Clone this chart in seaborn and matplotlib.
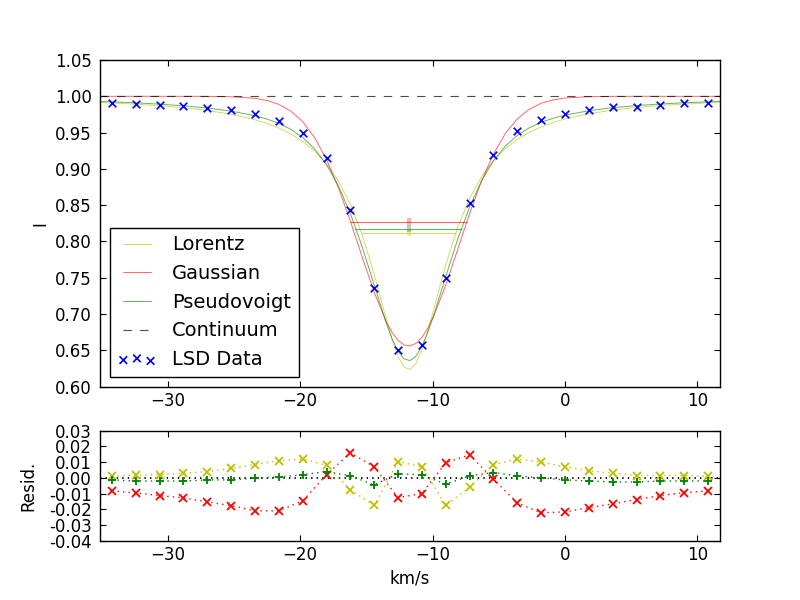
import matplotlib
matplotlib.use("Agg")
import matplotlib.pyplot as plt
from matplotlib.ticker import MultipleLocator
import seaborn as sns

sns.set_style("ticks", {"xtick.direction": "in", "ytick.direction": "in"})
plt.rcParams["font.family"] = ["DejaVu Sans"]
plt.rcParams.update({
    "font.size": 12, "axes.labelsize": 12,
    "xtick.labelsize": 12, "ytick.labelsize": 12,
    "axes.edgecolor": "k", "axes.linewidth": 1.0,
    "text.color": "k", "axes.labelcolor": "k",
    "xtick.color": "k", "ytick.color": "k",
    "xtick.top": True, "ytick.right": True,
    "xtick.major.size": 4, "ytick.major.size": 4,
    "xtick.major.pad": 4, "ytick.major.pad": 6,
    "lines.scale_dashes": False,
    "lines.dashed_pattern": [6, 6],
    "lines.dotted_pattern": [1, 3],
})

# LSD profile (km/s, normalised intensity)
vel = [-34.2, -32.4, -30.6, -28.8, -27.0, -25.2, -23.4, -21.6, -19.8, -18.0,
       -16.2, -14.4, -12.6, -10.8, -9.0, -7.2, -5.4, -3.6, -1.8, 0.0,
       1.8, 3.6, 5.4, 7.2, 9.0, 10.8]
lsd = [0.991, 0.989, 0.988, 0.987, 0.984, 0.981, 0.976, 0.966, 0.950, 0.915,
       0.844, 0.736, 0.650, 0.658, 0.750, 0.853, 0.919, 0.952, 0.967, 0.976,
       0.981, 0.985, 0.985, 0.988, 0.991, 0.991]

# fitted model curves
model_vel = [-35.1, -34.2, -32.4, -30.6, -28.8, -27.0, -25.2, -23.4, -22.5, -21.6,
             -20.7, -19.8, -18.9, -18.0, -17.1, -16.2, -15.3, -14.4, -13.5, -13.05,
             -12.6, -12.15, -11.7, -11.25, -10.8, -10.35, -9.9, -9.0, -8.1, -7.2,
             -6.3, -5.4, -4.5, -3.6, -2.7, -1.8, -0.9, 0.0, 1.8, 3.6,
             5.4, 7.2, 9.0, 10.8, 11.7]
lorentz = [0.9915, 0.9908, 0.9891, 0.9870, 0.9843, 0.9805, 0.9753, 0.9678, 0.9627, 0.9563,
           0.9483, 0.9380, 0.9247, 0.9070, 0.8834, 0.8515, 0.8090, 0.7549, 0.6937, 0.6650,
           0.6416, 0.6270, 0.6237, 0.6322, 0.6511, 0.6772, 0.7073, 0.7678, 0.8195, 0.8594,
           0.8893, 0.9114, 0.9280, 0.9406, 0.9503, 0.9579, 0.9639, 0.9688, 0.9760, 0.9810,
           0.9846, 0.9873, 0.9893, 0.9909, 0.9916]
gaussian = [1.0000, 1.0000, 1.0000, 1.0000, 1.0000, 0.9999, 0.9994, 0.9972, 0.9943, 0.9889,
            0.9797, 0.9651, 0.9432, 0.9129, 0.8740, 0.8278, 0.7780, 0.7298, 0.6898, 0.6747,
            0.6638, 0.6575, 0.6561, 0.6597, 0.6681, 0.6809, 0.6976, 0.7401, 0.7891, 0.8385,
            0.8833, 0.9204, 0.9488, 0.9689, 0.9822, 0.9904, 0.9951, 0.9976, 0.9995, 0.9999,
            1.0000, 1.0000, 1.0000, 1.0000, 1.0000]
pseudovoigt = [0.9929, 0.9923, 0.9910, 0.9892, 0.9869, 0.9839, 0.9796, 0.9732, 0.9687, 0.9627,
               0.9546, 0.9433, 0.9275, 0.9057, 0.8764, 0.8385, 0.7922, 0.7399, 0.6880, 0.6658,
               0.6487, 0.6383, 0.6360, 0.6420, 0.6556, 0.6752, 0.6989, 0.7518, 0.8032, 0.8477,
               0.8836, 0.9111, 0.9315, 0.9461, 0.9566, 0.9642, 0.9698, 0.9741, 0.9801, 0.9843,
               0.9872, 0.9894, 0.9911, 0.9924, 0.9930]
continuum = 1.0

# half-maximum markers: Lorentz, Gaussian, Pseudovoigt
fwhm_lo = [-15.35, -16.2, -15.83]
fwhm_hi = [-8.25, -7.4, -7.8]
half_level = [0.8112, 0.8275, 0.8175]
centre = [-11.8, -11.8, -11.8]
centre_err = [0.004, 0.0055, 0.004]

# residuals (data - model)
res_lorentz = [0.001, 0.0017, 0.002, 0.003, 0.004, 0.006, 0.0085, 0.011, 0.012, 0.008,
               -0.0077, -0.0175, 0.0104, 0.007, -0.0175, -0.006, 0.0083, 0.012, 0.010, 0.007,
               0.0045, 0.003, 0.0015, 0.0015, 0.0015, 0.001]
res_gaussian = [-0.0083, -0.0096, -0.0113, -0.0128, -0.0153, -0.0177, -0.021, -0.021, -0.0147, 0.002,
                0.016, 0.007, -0.0126, -0.010, 0.0096, 0.0147, -0.0009, -0.016, -0.0223, -0.0217,
                -0.019, -0.0166, -0.0138, -0.0113, -0.0094, -0.0083]
res_pvoigt = [-0.0013, -0.002, -0.002, -0.002, -0.0013, -0.0013, -0.0002, 0.0006, 0.002, 0.004,
              0.0013, -0.0045, 0.0026, 0.002, -0.004, 0.0013, 0.0034, 0.0013, 0.0, -0.0013,
              -0.002, -0.0026, -0.0026, -0.002, -0.002, -0.002]

cols = ["y", "r", "g"]
names = ["Lorentz", "Gaussian", "Pseudovoigt"]
models = [lorentz, gaussian, pseudovoigt]
xlim = (model_vel[0], model_vel[-1])

fig = plt.figure(figsize=(8, 6), dpi=100)
ax = fig.add_axes([0.125, 0.3555, 0.775, 0.5445])
ax2 = fig.add_axes([0.125, 0.099, 0.775, 0.183])

handles = []
for m, c, n in zip(models, cols, names):
    sns.lineplot(x=model_vel, y=m, ax=ax, color=c, lw=0.7, alpha=0.6,
                 sort=False, errorbar=None)
    handles.append(ax.lines[-1])

ax.axhline(continuum, color="k", ls="--", lw=0.8, alpha=0.7)
handles.append(ax.lines[-1])

for lo, hi, lev, c in zip(fwhm_lo, fwhm_hi, half_level, cols):
    ax.hlines(lev, lo, hi, color=c, lw=0.8, alpha=0.6)
for x0, lev, e, c in zip(centre, half_level, centre_err, cols):
    ax.errorbar(x0, lev, yerr=e, color=c, elinewidth=3, alpha=0.3, fmt="none")

sns.scatterplot(x=vel, y=lsd, ax=ax, marker="x", color="b", s=30,
                linewidth=1.2, legend=False, zorder=5)
handles.append(ax.collections[-1])

ax.set_xlim(xlim)
ax.set_ylim(0.60, 1.05)
ax.yaxis.set_major_locator(MultipleLocator(0.05))
ax.yaxis.set_major_formatter(plt.FormatStrFormatter("%.2f"))
ax.xaxis.set_major_locator(MultipleLocator(10))
ax.set_ylabel("I")
ax.set_xlabel("")

leg = ax.legend(handles=handles, labels=names + ["Continuum", "LSD Data"],
                loc="lower left", fontsize=14, numpoints=2, scatterpoints=3,
                handlelength=2.0, handletextpad=0.8, fancybox=False,
                framealpha=1, edgecolor="k", borderaxespad=0.5)
leg.get_frame().set_linewidth(1.0)

ax2.axhline(0.0, color="k", ls=":", lw=1.3)
for r, c, mk in zip([res_lorentz, res_gaussian, res_pvoigt], cols, ["x", "x", "+"]):
    sns.lineplot(x=vel, y=r, ax=ax2, color=c, ls=":", lw=1.0, marker=mk,
                 markersize=6, markeredgewidth=1.3, markeredgecolor=c,
                 sort=False, errorbar=None)

ax2.set_xlim(xlim)
ax2.set_ylim(-0.04, 0.03)
ax2.yaxis.set_major_locator(MultipleLocator(0.01))
ax2.yaxis.set_major_formatter(plt.FormatStrFormatter("%.2f"))
ax2.xaxis.set_major_locator(MultipleLocator(10))
ax2.set_xlabel("km/s")
ax2.set_ylabel("Resid.", labelpad=8)

fig.savefig("out.png", dpi=100)
